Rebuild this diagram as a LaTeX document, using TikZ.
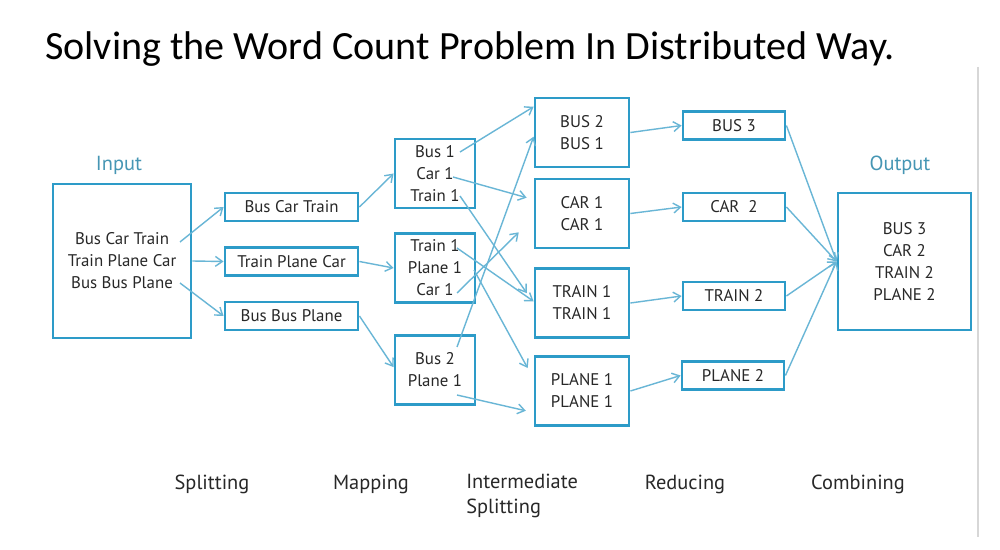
\documentclass[tikz,border=0pt]{standalone}
\usepackage{fontspec}
\setmainfont{PT Sans}
\newfontfamily\titlefont{Carlito}
\usepackage{xcolor}
\usetikzlibrary{arrows.meta}

\definecolor{boxblue}{RGB}{45,155,200}
\definecolor{arrowblue}{RGB}{105,182,214}
\definecolor{headblue}{RGB}{70,150,180}
\definecolor{wordgray}{RGB}{40,40,40}
\definecolor{edgegray}{RGB}{215,215,215}

\begin{document}
\begin{tikzpicture}[x=0.025cm, y=-0.025cm,
    box/.style={draw=boxblue, line width=2pt, inner sep=0pt, align=center,
      text=wordgray, font=\fontsize{12}{15.6}\selectfont},
    flow/.style={draw=arrowblue, line width=1pt,
      -{Straight Barb[length=5pt,width=7pt]}},
    stage/.style={text=wordgray, inner sep=0pt, font=\fontsize{14.5}{17.5}\selectfont},
    head/.style={text=headblue, font=\fontsize{14.5}{17}\selectfont}]

  % Page
  \fill[white] (0,0) rectangle (1000,550);
  \useasboundingbox (0,0) rectangle (1000,550);
  \draw[edgegray, line width=0.8pt] (978,67) -- (978,537);

  % Title
  \node[anchor=base west, inner sep=0pt, font=\titlefont\fontsize{28.5}{32}\selectfont]
    (title) at (45,60) {Solving the Word Count Problem In Distributed Way.};

  % Input
  \node[head] (inlabel) at (119,165) {Input};
  \node[box, minimum width=3.45cm, minimum height=3.85cm] (in) at (122,261)
    {Bus Car Train\\Train Plane Car\\Bus Bus Plane};
  \coordinate (in-l1) at (180,242);
  \coordinate (in-l3) at (180,283);

  % Splitting
  \node[box, minimum width=3.325cm, minimum height=0.7cm] (split1) at (291.5,207) {Bus Car Train};
  \node[box, minimum width=3.325cm, minimum height=0.7cm] (split2) at (291.5,261.5) {Train Plane Car};
  \node[box, minimum width=3.325cm, minimum height=0.7cm] (split3) at (291.5,316) {Bus Bus Plane};

  % Mapping
  \node[box, minimum width=2cm, minimum height=1.725cm] (map1) at (435,173.5) {Bus 1\\Car 1\\Train 1};
  \node[box, minimum width=2cm, minimum height=1.725cm] (map2) at (435,268) {Train 1\\Plane 1\\Car 1};
  \node[box, minimum width=2cm, minimum height=1.725cm] (map3) at (435,370) {Bus 2\\Plane 1};
  \coordinate (m1-bus) at (460,152);
  \coordinate (m1-car) at (453,177);
  \coordinate (m1-train) at (460,196);
  \coordinate (m2-train) at (457,248);
  \coordinate (m2-plane) at (474,270);
  \coordinate (m2-car) at (457,293);
  \coordinate (m3-bus) at (457,347);
  \coordinate (m3-plane) at (457,395);

  % Intermediate splitting
  \node[box, minimum width=2.35cm, minimum height=1.725cm] (inter1) at (582,132.5) {BUS 2\\BUS 1};
  \node[box, minimum width=2.35cm, minimum height=1.725cm] (inter2) at (582,213.5) {CAR 1\\CAR 1};
  \node[box, minimum width=2.35cm, minimum height=1.725cm] (inter3) at (582,303) {TRAIN 1\\TRAIN 1};
  \node[box, minimum width=2.35cm, minimum height=1.725cm] (inter4) at (582,391) {PLANE 1\\PLANE 1};

  % Reducing
  \node[box, minimum width=2.55cm, minimum height=0.7cm] (red1) at (734,125.5) {BUS 3};
  \node[box, minimum width=2.55cm, minimum height=0.7cm] (red2) at (734,207) {CAR\ \ 2};
  \node[box, minimum width=2.55cm, minimum height=0.7cm] (red3) at (734,296) {TRAIN 2};
  \node[box, minimum width=2.55cm, minimum height=0.7cm] (red4) at (733,375.5) {PLANE 2};

  % Output
  \node[head] (outlabel) at (900,165) {Output};
  \node[box, minimum width=3.325cm, minimum height=3.425cm] (out) at (904.5,261.5)
    {BUS 3\\CAR 2\\TRAIN 2\\PLANE 2};

  % Input to splitting
  \draw[flow] (in-l1) -- (split1.west);
  \draw[flow] (in.east) -- (split2.west);
  \draw[flow] (in-l3) -- (split3.west);

  % Splitting to mapping
  \draw[flow] (split1.east) -- (map1.west);
  \draw[flow] (split2.east) -- (map2.west);
  \draw[flow] (split3.east) -- (map3.176);

  % Mapping to intermediate splitting
  \draw[flow] (m1-bus) -- (inter1.152);
  \draw[flow, shorten >=0.18cm] (m1-car) -- (inter2.164);
  \draw[flow, shorten >=0.3cm] (m1-train) -- (inter3.west);
  \draw[flow] (m2-train) -- (inter3.178);
  \draw[flow, shorten >=0.31cm] (m2-plane) -- (inter4.166);
  \draw[flow, shorten >=0.52cm] (m2-car) -- (inter2.185);
  \draw[flow] (m3-bus) -- (inter1.185);
  \draw[flow, shorten >=0.2cm] (m3-plane) -- (inter4.204);

  % Intermediate splitting to reducing
  \draw[flow] (inter1.east) -- (red1.west);
  \draw[flow] (inter2.east) -- (red2.west);
  \draw[flow] (inter3.east) -- (red3.west);
  \draw[flow] (inter4.east) -- (red4.west);

  % Reducing to output
  \draw[flow] (red1.east) -- (out.west);
  \draw[flow] (red2.east) -- (out.west);
  \draw[flow] (red3.east) -- (out.west);
  \draw[flow] (red4.east) -- (out.west);

  % Stage names
  \node[stage] (st-split) at (212,484) {Splitting};
  \node[stage] (st-map) at (371,484) {Mapping};
  \node[stage, anchor=north west, align=left] (st-inter) at (466,474) {Intermediate\\Splitting};
  \node[stage] (st-red) at (685,484) {Reducing};
  \node[stage] (st-comb) at (858,484) {Combining};
\end{tikzpicture}
\end{document}
